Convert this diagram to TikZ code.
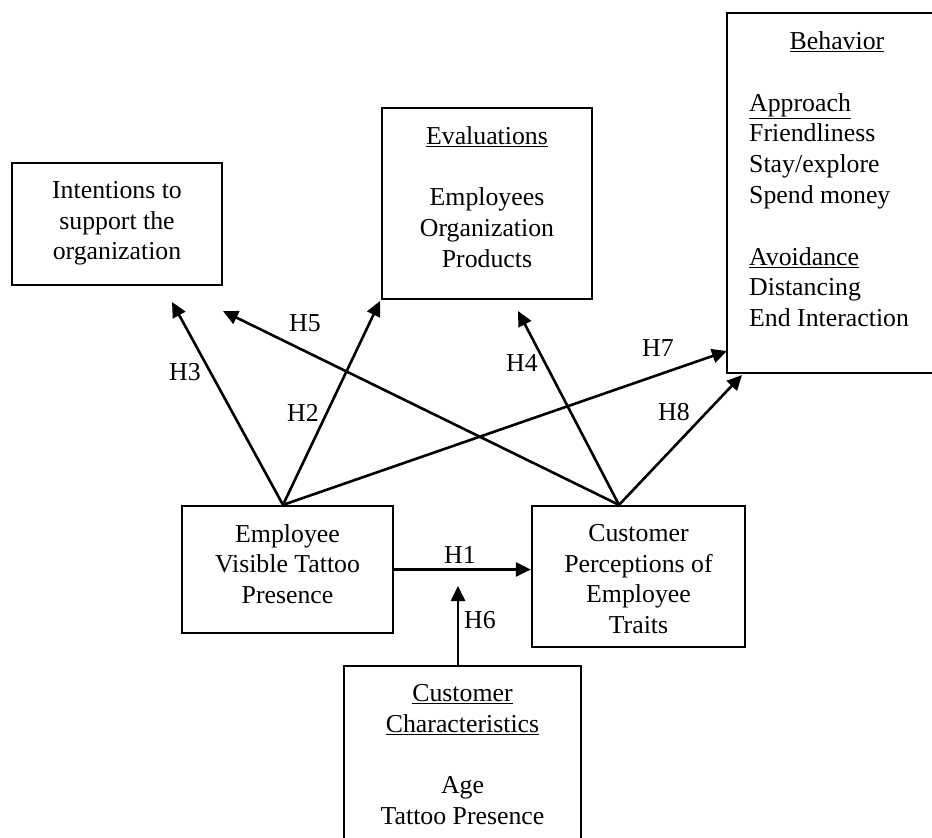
\documentclass[tikz,border=0pt]{standalone}
\usepackage{fontspec}
\setmainfont{Liberation Serif}
\usetikzlibrary{arrows.meta}
\begin{document}
\begin{tikzpicture}[x=1pt,y=-1pt,
 box/.style={draw, line width=2.2pt, inner sep=0pt},
 txt/.style={inner sep=0pt, font=\fontsize{25.8}{30.8}\selectfont, align=center},
 lab/.style={inner sep=0pt, font=\fontsize{25.8}{30.8}\selectfont},
 arr/.style={line width=2.6pt, -{Triangle[length=15pt,width=14pt]}}]
\useasboundingbox (0,0) rectangle (932,838);
\clip (0,0) rectangle (932,838);
\fill[white] (0,0) rectangle (932,838);

% boxes
\node[box, minimum width=210pt, minimum height=122pt] (int) at (117,224) {};
\node[box, minimum width=210pt, minimum height=191pt] (eva) at (487,203.5) {};
\node[box, minimum width=233pt, minimum height=360pt] (beh) at (843.5,193) {};
\node[box, minimum width=211pt, minimum height=127pt] (emp) at (287.5,569.5) {};
\node[box, minimum width=213pt, minimum height=141pt] (cp) at (638.5,576.5) {};
\node[box, minimum width=237pt, minimum height=214pt] (cc) at (462.5,773) {};

% texts
\node[txt, anchor=north] (intT) at (117,181) {Intentions to\\support the\\organization};
\node[txt, anchor=north] (evaT) at (487,126) {\underline{Evaluations}\\[30.8pt]Employees\\Organization\\Products};
\node[txt, anchor=north] (behH) at (837,31) {\underline{Behavior}};
\node[txt, align=left, anchor=north west] (behT) at (749,93) {\underline{Approach}\\Friendliness\\Stay/explore\\Spend money\\[30.8pt]\underline{Avoidance}\\Distancing\\End Interaction};
\node[txt, anchor=north] (empT) at (287.5,524) {Employee\\Visible Tattoo\\Presence};
\node[txt, anchor=north] (cpT) at (638.5,524) {Customer\\Perceptions of\\Employee\\Traits};
\node[txt, anchor=north] (ccT) at (462.5,684) {\underline{Customer}\\\underline{Characteristics}\\[30.8pt]Age\\Tattoo Presence};

% arrow ends
\coordinate (tH3) at (172,302);
\coordinate (tH2) at (380,301);
\coordinate (tH7) at (727,351);
\coordinate (tH5) at (223,311);
\coordinate (tH4) at (518,311);
\coordinate (tH8) at (742,375);
\coordinate (tH6) at (458,586);

\draw[arr] ([xshift=-4.5pt]emp.north) -- (tH3);
\draw[arr] ([xshift=-4.5pt]emp.north) -- (tH2);
\draw[arr] ([xshift=-4.5pt]emp.north) -- (tH7);
\draw[arr] ([xshift=-19.5pt]cp.north) -- (tH5);
\draw[arr] ([xshift=-19.5pt]cp.north) -- (tH4);
\draw[arr] ([xshift=-19.5pt]cp.north) -- (tH8);
\draw[arr] (emp.east) -- (emp.east -| cp.west);
\draw[arr] ([xshift=-4.5pt]cc.north) -- (tH6);

% labels
\node[lab] (lH1) at (460,555) {H1};
\node[lab] (lH2) at (303,413) {H2};
\node[lab] (lH3) at (185,372) {H3};
\node[lab] (lH4) at (522,363) {H4};
\node[lab] (lH5) at (305,323) {H5};
\node[lab] (lH6) at (480,620) {H6};
\node[lab] (lH7) at (658,348) {H7};
\node[lab] (lH8) at (674,412) {H8};
\end{tikzpicture}
\end{document}
